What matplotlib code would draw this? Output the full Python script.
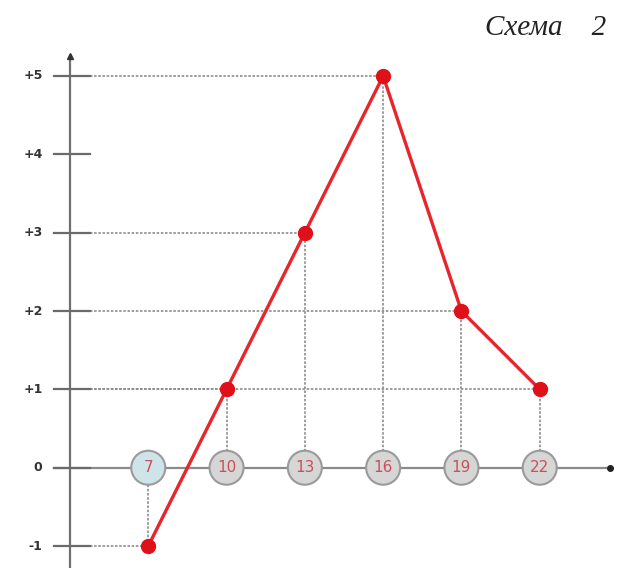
import matplotlib
matplotlib.use("Agg")
import matplotlib.pyplot as plt

x_vals = [7, 10, 13, 16, 19, 22]
y_vals = [-1, 1, 3, 5, 2, 1]
y_ticks = [-1, 0, 1, 2, 3, 4, 5]
y_tick_labels = ["-1", "0", "+1", "+2", "+3", "+4", "+5"]
circle_fill = ["#cfe4e8", "#d6d6d6", "#d6d6d6", "#d6d6d6", "#d6d6d6", "#d6d6d6"]

fig = plt.figure(figsize=(6.23, 5.68), dpi=100)
ax = fig.add_axes([0, 0, 1, 1])
ax.set_xlim(1.32, 25.19)
ax.set_ylim(-1.28, 5.97)
ax.axis("off")

x0 = 4  # where the vertical axis crosses

## axes with arrow ends
ax.plot([x0, x0], [-1.28, 5.25], color="#707070", lw=1.6, zorder=2)
ax.plot([x0], [5.25], marker="^", color="#333333", ms=5, zorder=3)
ax.plot([x0 - 0.6, 24.7], [0, 0], color="#8a8a8a", lw=1.6, zorder=2)
ax.plot([24.7], [0], marker="o", color="#222222", ms=4, zorder=3)

## tick marks and labels
for t, lab in zip(y_ticks, y_tick_labels):
    ax.plot([x0 - 0.6, x0 + 0.75], [t, t], color="#6a6a6a", lw=1.6, zorder=2)
    ax.text(x0 - 1.05, t, lab, ha="right", va="center", fontsize=9,
            fontweight="bold", color="#333333")

## dotted helper lines from each point to the axes
for x, y in zip(x_vals, y_vals):
    ax.plot([x0 + 0.75, x], [y, y], color="#8c8c8c", lw=1.2, ls=(0, (1.5, 1)), zorder=1)
    ax.plot([x, x], [0, y], color="#8c8c8c", lw=1.2, ls=(0, (1.5, 1)), zorder=1)

## circled x labels on the axis
ax.scatter(x_vals, [0] * len(x_vals), s=600, c=circle_fill, edgecolors="#9a9a9a",
           linewidths=1.5, zorder=4)
for x in x_vals:
    ax.text(x, 0, str(x), ha="center", va="center", fontsize=11,
            color="#c8505a", zorder=5)

## main red line
ax.plot(x_vals, y_vals, color="#e8242c", lw=2.4, marker="o", ms=10,
        markerfacecolor="#e0101a", markeredgecolor="#e0101a", zorder=6)

fig.text(0.778, 0.951, "Схема    2", fontsize=21, fontstyle="italic",
         family="Liberation Serif", ha="left", va="center", color="#222222")

fig.savefig("out.png", dpi=100)
